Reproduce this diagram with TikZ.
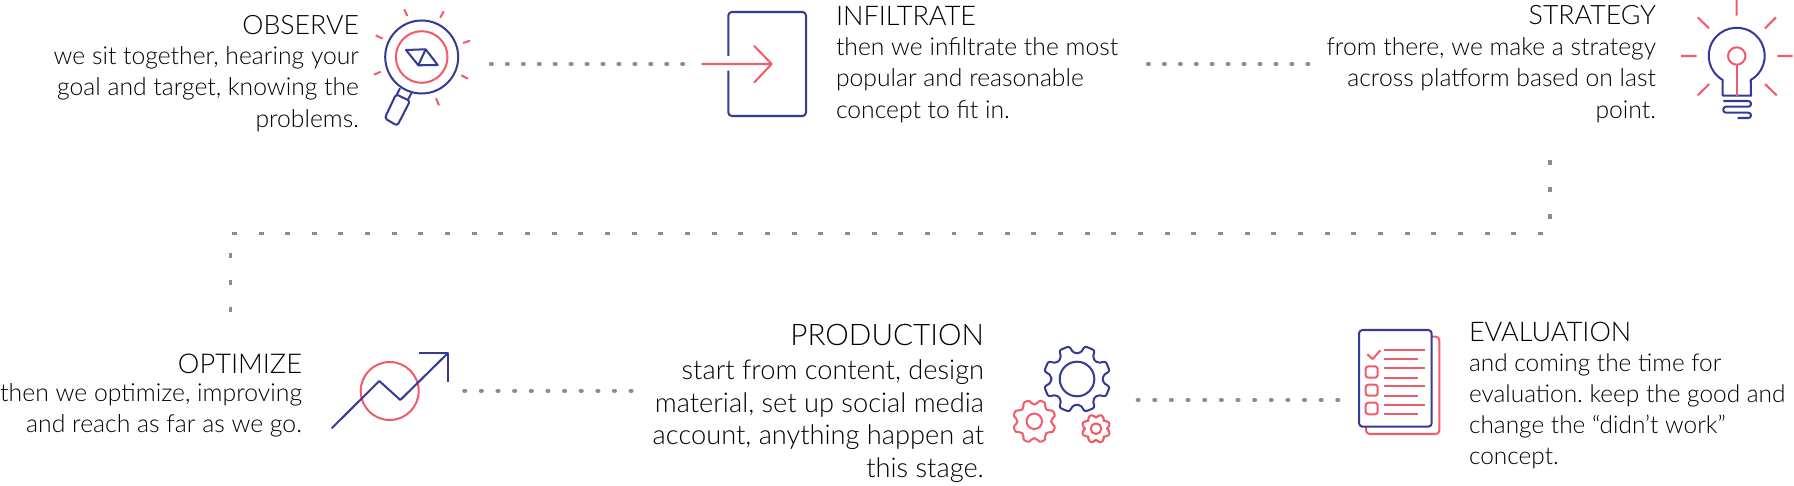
\documentclass[tikz,border=0pt]{standalone}
\usepackage{fontspec}
\setmainfont{Lato}[UprightFont=* Light]
\usepackage{tikz}
\usetikzlibrary{positioning}
\definecolor{iconnavy}{RGB}{52, 58, 150}
\definecolor{iconred}{RGB}{240, 92, 106}
\definecolor{dotgray}{RGB}{140, 140, 146}
\newcommand{\gearicon}[5]{%
  \begin{scope}[shift={#1}]
    \draw[#2, rounded corners=1.2] ({22.5-15}:#4)
      \foreach \t in {22.5,67.5,...,337.5} {
        -- ({\t-15}:#4) -- ({\t-9}:#3) -- ({\t+9}:#3) -- ({\t+15}:#4)
      } -- cycle;
    \draw[#2] (0,0) circle (#5);
  \end{scope}}

\begin{document}
\frenchspacing
\begin{tikzpicture}[
    x=0.02cm, y=-0.02cm,
    font=\fontsize{14.05pt}{17.9pt}\selectfont,
    txt/.style={inner sep=0pt, outer sep=0pt, text depth=0pt},
    headl/.style={txt, font=\fontsize{15.2pt}{18pt}\selectfont, anchor=base east},
    headr/.style={txt, font=\fontsize{15.4pt}{18pt}\selectfont, anchor=base west},
    bodyl/.style={txt, align=right},
    bodyr/.style={txt, align=left},
    navy/.style={draw=iconnavy, line width=1.15pt, line join=round},
    red/.style={draw=iconred, line width=1.15pt, line join=round},
    dots/.style={draw=dotgray, line width=2.4pt, line cap=round, dash pattern=on 0.5pt off #1},
    dots/.default=8.57pt,
    dashes/.style={draw=dotgray, line width=1.8pt, dash pattern=on 2.84pt off 12.33pt}
]
\useasboundingbox (0,0) rectangle (1794,486);

\node[headl] (observe) at (359,35) {OBSERVE};
\node[bodyl, below left=6.5pt and 0pt of observe.base east] (observetext) {we sit together, hearing your\\goal and target, knowing the\\problems.};
\node[headr] (infiltrate) at (836,26) {INFILTRATE};
\node[bodyr, below right=6.5pt and 0pt of infiltrate.base west] (infiltratetext) {then we infiltrate the most\\popular and reasonable\\concept to fit in.};
\node[headl] (strategy) at (1656,25) {STRATEGY};
\node[bodyl, below left=7pt and 0pt of strategy.base east] (strategytext) {from there, we make a strategy\\across platform based on last\\point.};
\node[headl, font=\fontsize{15.5pt}{18pt}\selectfont] (optimize) at (302,373) {OPTIMIZE};
\node[bodyl, below left=6pt and 0pt of optimize.base east, font=\fontsize{14.1pt}{17.6pt}\selectfont] (optimizetext) {then we optimize, improving\\and reach as far as we go.};
\node[headl, font=\fontsize{16.9pt}{18pt}\selectfont] (production) at (984,345) {PRODUCTION};
\node[bodyl, below left=8.5pt and 0pt of production.base east, font=\fontsize{15.5pt}{18.5pt}\selectfont] (productiontext) {start from content, design\\material, set up social media\\account, anything happen at\\this stage.};
\node[headr] (evaluation) at (1469,341) {EVALUATION};
\node[bodyr, below right=7pt and 0pt of evaluation.base west, font=\fontsize{13.9pt}{17.7pt}\selectfont] (evaluationtext) {and coming the time for\\evaluation. keep the good and\\change the “didn’t work”\\concept.};

\coordinate (observeout) at (491,64);
\coordinate (infiltratein) at (691,64);
\coordinate (infiltrateout) at (1148,64);
\coordinate (strategyin) at (1310,64);
\coordinate (strategyout) at (1550,160.5);
\coordinate (strategybend) at (1550,233.3);
\coordinate (optimizebend) at (230.3,233.3);
\coordinate (optimizein) at (230.3,318);
\coordinate (optimizeout) at (464.3,390.7);
\coordinate (productionin) at (633,390.7);
\coordinate (productionout) at (1137.7,400);
\coordinate (evaluationin) at (1340,400);

\draw[dots] (observeout) -- (infiltratein);
\draw[dots] (infiltrateout) -- (strategyin);
\draw[dashes] (strategyout) -- (strategybend) -- (optimizebend) -- (optimizein);
\draw[dots=8.97pt] (optimizeout) -- (productionin);
\draw[dots=8.97pt] (productionout) -- (evaluationin);

\draw[navy] (421.7,57) circle (36.5);
\draw[red] (421.7,57) circle (25.8);
\draw[navy] (406,50) -- (425.7,49.3) -- (437.7,65) -- (418.3,65.3) -- cycle (425.7,49.3) -- (418.3,65.3);
\draw[navy] (400,88.3) -- (396.7,95) (411.7,92.7) -- (407.7,100);
\draw[navy, rounded corners=1.5] (396,94.3) -- (410,101) -- (397.3,125.7) -- (384.7,118.3) -- cycle;
\draw[red] (404.3,9.3) -- (407.3,16) (443.7,11.3) -- (440.3,17.7) (375.7,35.3) -- (382.7,38.7) (470,40.7) -- (463,43) (374,74.7) -- (380.7,71.7) (468,78.7) -- (461.3,75.3) (436,98.3) -- (439,105.3);

\draw[navy, rounded corners=2] (728.3,56) -- (728.3,12) -- (806,12) -- (806,116) -- (728.3,116) -- (728.3,70.7);
\draw[red] (701.7,64) -- (771.7,64) (754,45.7) -- (771.7,64) -- (754,82.7);

\draw[navy] (1722.7,95.7) -- (1722.7,80) arc (120:420:28) -- (1751,95.7) -- cycle;
\draw[navy, rounded corners=1.5] (1723.3,101) -- (1751,101) -- (1751,106.7) -- (1723.3,106.7) -- (1723.3,112.7) -- (1751,112.7) -- (1751,118) -- (1737.7,118);
\draw[red] (1736.7,56) circle (8.7);
\draw[red] (1736.7,64.7) -- (1736.7,95.7);
\draw[red] (1736.7,0) -- (1736.7,15.7) (1697.7,17.3) -- (1709,28.3) (1776,17.3) -- (1765,28.3) (1681,56) -- (1696.7,56) (1777.3,56) -- (1792.7,56) (1709.3,84) -- (1697.7,95.3) (1765,84) -- (1776.7,95.3);

\draw[red] (389.7,391) circle (29);
\draw[navy] (331.7,428.3) -- (379.3,381) -- (400.3,400) -- (447.7,353.3);
\draw[navy] (418.7,352.7) -- (447.7,352.7) -- (447.7,382);

\gearicon{(1077,379)}{navy}{33.7}{26}{17.3}
\gearicon{(1034.3,421.3)}{red}{21.7}{17}{7.7}
\gearicon{(1096,428.7)}{red}{14.5}{11.3}{5.3}

\draw[red, rounded corners=2] (1431.7,336.7) -- (1439.3,336.7) -- (1439.3,434) -- (1366,434) -- (1366,426.7);
\draw[navy, rounded corners=2] (1359,330) rectangle (1431.7,426.7);
\draw[red] (1367.3,354.3) -- (1372.7,359) -- (1380.3,350.3);
\draw[red, rounded corners=1.5] (1365.7,366.3) rectangle (1377.7,377.7);
\draw[red, rounded corners=1.5] (1365.7,384.7) rectangle (1377.7,395.7);
\draw[red, rounded corners=1.5] (1365.7,402.7) rectangle (1377.7,414.3);
\foreach \ly in {349.7,368.3,386.3,404.7} {
  \draw[red] (1384.3,\ly) -- (1425,\ly);
  \draw[red] (1384.3,\ly+9.3) -- (1417.7,\ly+9.3);
}
\end{tikzpicture}
\end{document}
